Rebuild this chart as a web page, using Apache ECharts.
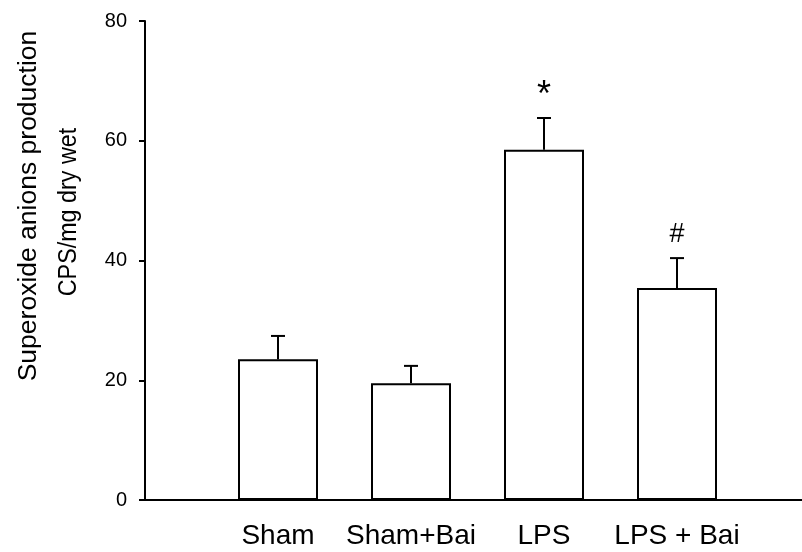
<!DOCTYPE html>
<html>
<head>
<meta charset="utf-8">
<script src="https://cdn.jsdelivr.net/npm/echarts@6/dist/echarts.min.js"></script>
<style>
html,body{margin:0;padding:0;background:#fff;}
#chart{width:802px;height:552px;}
</style>
</head>
<body>
<div id="chart"></div>
<script>
// ---- data ----
const categories = ['Sham', 'Sham+Bai', 'LPS', 'LPS + Bai'];
const means = [23.5, 19.5, 58.5, 35.4];
const errorTops = [27.4, 22.4, 63.8, 40.4];
const significance = ['', '', '*', '#'];
const yTicks = [0, 20, 40, 60, 80];
const yTitleLines = ['Superoxide anions production', 'CPS/mg dry wet'];

// empty slots at both ends reproduce the spacing from the y axis and the long x axis
const axisCats = [''].concat(categories, ['']);
const barData = ['-'].concat(means, ['-']);
const errData = categories.map((c, i) => [i + 1, means[i], errorTops[i]]);

const chart = echarts.init(document.getElementById('chart'), null, {renderer: 'canvas'});
const FONT = 'Liberation Sans, Arial, sans-serif';

chart.setOption({
  animation: false,
  backgroundColor: '#ffffff',
  grid: {left: 145, width: 665, top: 21, bottom: 52, containLabel: false, outerBoundsMode: 'none'},
  xAxis: {
    type: 'category',
    data: axisCats,
    boundaryGap: false,
    axisLine: {show: true, lineStyle: {color: '#000', width: 2}},
    axisTick: {show: false},
    axisLabel: {color: '#000', fontSize: 28, fontFamily: FONT, margin: 22, interval: 0},
    splitLine: {show: false}
  },
  yAxis: {
    type: 'value',
    min: yTicks[0],
    max: yTicks[yTicks.length - 1],
    interval: yTicks[1] - yTicks[0],
    axisLine: {show: true, lineStyle: {color: '#000', width: 2}},
    axisTick: {show: true, inside: false, length: 6, lineStyle: {color: '#000', width: 2}},
    axisLabel: {color: '#000', fontSize: 20, fontFamily: FONT, margin: 18},
    splitLine: {show: false}
  },
  graphic: [
    {
      type: 'text', x: 29, y: 206, rotation: Math.PI / 2,
      style: {text: yTitleLines[0], fill: '#000', font: '26.5px ' + FONT, align: 'center', verticalAlign: 'middle'}
    },
    {
      type: 'text', x: 69, y: 212, rotation: Math.PI / 2, scaleX: 0.88,
      style: {text: yTitleLines[1], fill: '#000', font: '26.5px ' + FONT, align: 'center', verticalAlign: 'middle'}
    }
  ],
  series: [
    {
      type: 'bar',
      data: barData,
      barWidth: 80,
      itemStyle: {color: '#fff', borderColor: '#000', borderWidth: 2},
      z: 2
    },
    {
      type: 'custom',
      data: errData,
      z: 3,
      renderItem: function (params, api) {
        const x = api.value(0);
        const base = api.coord([x, api.value(1)]);
        const top = api.coord([x, api.value(2)]);
        const mark = significance[params.dataIndex];
        const half = 7;
        const children = [
          {type: 'line', shape: {x1: base[0], y1: base[1], x2: top[0], y2: top[1]}, style: {stroke: '#000', lineWidth: 2}},
          {type: 'line', shape: {x1: top[0] - half, y1: top[1], x2: top[0] + half, y2: top[1]}, style: {stroke: '#000', lineWidth: 2}}
        ];
        if (mark) {
          const isStar = mark === '*';
          children.push({
            type: 'text',
            x: top[0],
            y: top[1] - (isStar ? 22 : 24),
            style: {text: mark, fill: '#000', font: (isStar ? '36px ' : '27px ') + FONT, align: 'center', verticalAlign: 'middle'}
          });
        }
        return {type: 'group', children: children};
      }
    }
  ]
});
</script>
</body>
</html>
